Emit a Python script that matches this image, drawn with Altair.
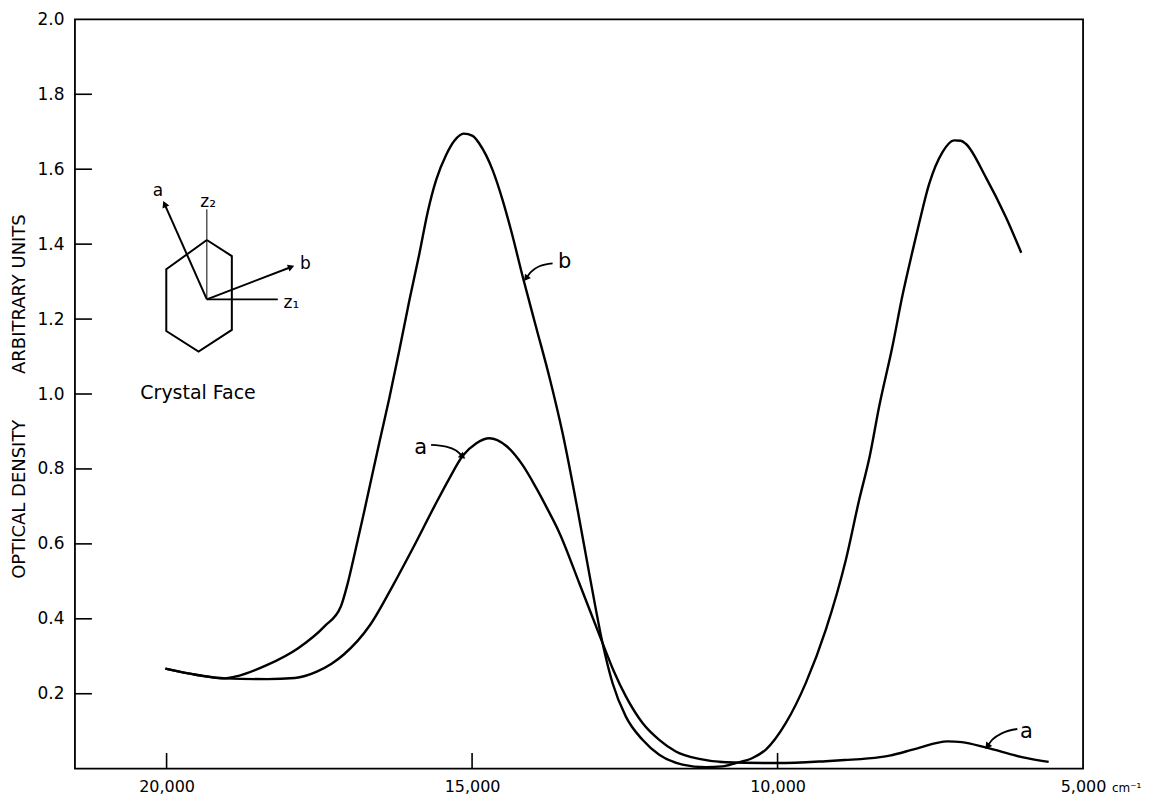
import altair as alt
import pandas as pd

# ---- curve b (wavenumber cm^-1, optical density) ----
b_wn = [20020, 19500, 19039, 18883, 18352, 17853, 17416, 17150, 17040, 16948,
        16761, 16516, 16353, 16189, 16026, 15862, 15726, 15589, 15425, 15290,
        15137, 14990, 14880, 14662, 14499, 14362, 14171, 13953, 13736, 13518,
        13273, 13070, 12864, 12700, 12483, 12210, 11937, 11556, 11174, 10901,
        10683, 10410, 10191, 9864, 9537, 9210, 8883, 8665, 8490, 8338,
        8121, 7957, 7793, 7684, 7520, 7303, 7111, 7000, 6920, 6593, 6266, 6011]
b_val = [0.267, 0.250, 0.241, 0.2455, 0.277, 0.321, 0.380, 0.432, 0.492, 0.555,
         0.690, 0.872, 0.990, 1.118, 1.250, 1.375, 1.486, 1.571, 1.638, 1.676,
         1.695, 1.689, 1.668, 1.597, 1.517, 1.437, 1.313, 1.179, 1.046, 0.895,
         0.691, 0.51, 0.335, 0.228, 0.139, 0.077, 0.037, 0.011, 0.004, 0.006,
         0.015, 0.0285, 0.051, 0.122, 0.229, 0.371, 0.557, 0.717, 0.835, 0.966,
         1.126, 1.262, 1.380, 1.455, 1.560, 1.645, 1.677, 1.676, 1.668, 1.579, 1.473, 1.377]

# ---- curve a ----
a_wn = [20020, 19500, 19039, 18352, 17900, 17541, 17300, 17104, 16667, 16292,
        15980, 15617, 15371, 15153, 14935, 14717, 14444, 14172, 13953, 13763,
        13572, 13245, 12864, 12680, 12483, 12210, 11937, 11665, 11283, 10847,
        10000, 9213, 8902, 8322, 8167, 7741, 7218, 6986, 6580, 6000, 5563]
a_val = [0.267, 0.250, 0.241, 0.239, 0.242, 0.259, 0.28, 0.304, 0.384, 0.490,
         0.585, 0.700, 0.775, 0.835, 0.868, 0.882, 0.862, 0.810, 0.750, 0.692,
         0.630, 0.495, 0.335, 0.26, 0.193, 0.122, 0.077, 0.046, 0.026, 0.017,
         0.015, 0.020, 0.023, 0.031, 0.035, 0.053, 0.073, 0.071, 0.056, 0.031, 0.018]

# ---- axis ticks ----
x_ticks = [20000, 15000, 10000, 5000]
y_ticks = [0.2, 0.4, 0.6, 0.8, 1.0, 1.2, 1.4, 1.6, 1.8, 2.0]

# ---- crystal-face inset (in data coordinates) ----
hex_wn = [19341, 18932, 18932, 19477, 20005, 20005, 19341]
hex_val = [1.411, 1.368, 1.171, 1.113, 1.168, 1.333, 1.411]
center = (19341, 1.2525)
z2_end = (19341, 1.493)
z1_end = (18180, 1.2525)
a_tip = (20033, 1.507)
b_tip = (17960, 1.339)

# ---- annotation arrows ----
arr_b = [(13682, 1.3485), (13899, 1.341), (14035, 1.326), (14117, 1.3085)]
arr_a1 = [(15671, 0.864), (15425, 0.8595), (15262, 0.849), (15153, 0.833)]
arr_a2 = [(6076, 0.1059), (6321, 0.095), (6485, 0.0773), (6567, 0.0595)]

head_wn = [20033, 17960, 14117, 15153, 6567]
head_val = [1.507, 1.339, 1.3085, 0.833, 0.0595]
head_ang = [335.8, 68.9, 217.0, 132.3, 216.7]

# ---- text labels ----
lab_text = ["a", "z\u2082", "b", "z\u2081", "Crystal Face", "b", "a", "a"]
lab_wn = [20142, 19320, 17727, 17956, 19485, 13485, 15840, 5926]
lab_val = [1.541, 1.512, 1.347, 1.243, 1.004, 1.352, 0.857, 0.0987]
lab_fs = [17, 17, 17, 17, 19, 21, 21, 21]

FONT = "DejaVu Sans"
NB = "\u00a0"

# ---------------- build tables ----------------
rows = []
for i, (w, v) in enumerate(zip(b_wn, b_val)):
    rows.append(dict(series="b", wn=w, val=v, ord=i))
for i, (w, v) in enumerate(zip(a_wn, a_val)):
    rows.append(dict(series="a", wn=w, val=v, ord=i))
curves_df = pd.DataFrame(rows)

seg_rows = []
for i, (w, v) in enumerate(zip(hex_wn, hex_val)):
    seg_rows.append(dict(seg="hex", wn=w, val=v, ord=i, sw=2.0))
for name, end, sw in [("z2", z2_end, 1.0), ("z1", z1_end, 1.6),
                      ("ta", a_tip, 2.0), ("tb", b_tip, 2.0)]:
    seg_rows.append(dict(seg=name, wn=center[0], val=center[1], ord=0, sw=sw))
    seg_rows.append(dict(seg=name, wn=end[0], val=end[1], ord=1, sw=sw))
# inward x-axis tick marks (short vertical segments from the axis)
for w in x_ticks[:-1]:
    seg_rows.append(dict(seg=f"xt{w}", wn=w, val=0.0, ord=0, sw=1.6))
    seg_rows.append(dict(seg=f"xt{w}", wn=w, val=0.042, ord=1, sw=1.6))
seg_df = pd.DataFrame(seg_rows)

arr_rows = []
for name, pts in [("ab", arr_b), ("aa1", arr_a1), ("aa2", arr_a2)]:
    for w, v in pts:
        arr_rows.append(dict(seg=name, wn=w, val=v))
arr_df = pd.DataFrame(arr_rows)

head_df = pd.DataFrame(dict(wn=head_wn, val=head_val, ang=head_ang))
lab_df = pd.DataFrame(dict(t=lab_text, wn=lab_wn, val=lab_val, fs=lab_fs))

xs = alt.Scale(domain=[5000, 21500], reverse=True, nice=False, zero=False)
ys = alt.Scale(domain=[0, 2.0], nice=False, zero=False)

x_axis = alt.Axis(values=x_ticks, format=",d", ticks=False, domain=False, grid=False,
                  labelPadding=10, labelFontSize=16, labelFont=FONT, labelColor="black",
                  labelFlush=False, labelOverlap=False, title=None)
y_axis = alt.Axis(values=y_ticks, format=".1f", ticks=False, domain=False, grid=False,
                  labelPadding=11, labelFontSize=17, labelFont=FONT, labelColor="black",
                  labelFlush=False, labelOverlap=False,
                  title="OPTICAL DENSITY" + NB * 8 + "ARBITRARY UNITS",
                  titleFont=FONT, titleFontSize=18, titleFontWeight="normal",
                  titleColor="black", titleAngle=270, titleX=-55, titleY=377,
                  titleAlign="center", titleBaseline="middle")

curves = alt.Chart(curves_df).mark_line(color="black", strokeWidth=2.4,
                                        interpolate="monotone").encode(
    x=alt.X("wn:Q", scale=xs, axis=x_axis),
    y=alt.Y("val:Q", scale=ys, axis=y_axis),
    detail="series:N",
    order="ord:Q",
)

# inward y-axis tick marks
ytick_df = pd.DataFrame(dict(val=y_ticks[:-1]))
yticks = alt.Chart(ytick_df).mark_rule(color="black", strokeWidth=1.6).encode(
    y=alt.Y("val:Q", scale=ys), x=alt.value(0), x2=alt.value(17))

inset = alt.Chart(seg_df).mark_line(color="black").encode(
    x=alt.X("wn:Q", scale=xs), y=alt.Y("val:Q", scale=ys),
    detail="seg:N", order="ord:Q",
    strokeWidth=alt.StrokeWidth("sw:Q", scale=None))

arrows = alt.Chart(arr_df).mark_line(color="black", strokeWidth=1.8,
                                     interpolate="monotone").encode(
    x=alt.X("wn:Q", scale=xs), y=alt.Y("val:Q", scale=ys),
    detail="seg:N", order=alt.Order("wn:Q", sort="descending"))

heads = alt.Chart(head_df).mark_point(shape="triangle-up", filled=True, size=55,
                                      color="black", opacity=1).encode(
    x=alt.X("wn:Q", scale=xs), y=alt.Y("val:Q", scale=ys),
    angle=alt.Angle("ang:Q", scale=None))

labels = alt.Chart(lab_df).mark_text(color="black", font=FONT, align="center",
                                     baseline="middle").encode(
    x=alt.X("wn:Q", scale=xs), y=alt.Y("val:Q", scale=ys),
    text="t:N", size=alt.Size("fs:Q", scale=None))

unit_df = pd.DataFrame(dict(wn=[5000], val=[0.0], t=["cm\u207b\u00b9"]))
unit = alt.Chart(unit_df).mark_text(color="black", font=FONT, align="left",
                                    baseline="middle", fontSize=12, dx=29, dy=19).encode(
    x=alt.X("wn:Q", scale=xs), y=alt.Y("val:Q", scale=ys), text="t:N")

chart = alt.layer(curves, yticks, inset, arrows, heads, labels, unit).properties(
    width=1009, height=750,
    padding={"left": 67, "top": 11, "right": 62, "bottom": 28},
    autosize=alt.AutoSizeParams(type="none"),
    background="white",
).configure_view(stroke="black", strokeWidth=1.8)

chart.save("out.html", embed_options={"renderer": "svg", "actions": False})
